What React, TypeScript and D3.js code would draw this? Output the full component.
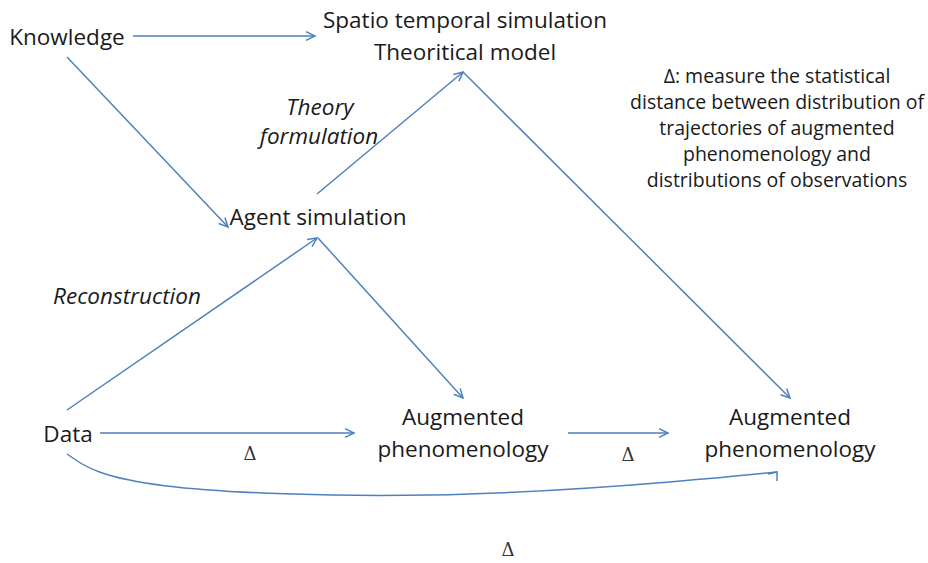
import React from "react";
import * as d3 from "d3";

// node labels (each entry = lines of one label)
const nodeIds = ["knowledge", "model", "agent", "data", "aug1", "aug2"];
const nodeLabels = [
  ["Knowledge"],
  ["Spatio temporal simulation", "Theoritical model"],
  ["Agent simulation"],
  ["Data"],
  ["Augmented", "phenomenology"],
  ["Augmented", "phenomenology"],
];
const italicLabels = [["Theory", "formulation"], ["Reconstruction"]];
const deltaLabels = ["\u0394", "\u0394", "\u0394"];
const noteLines = [
  "\u0394: measure the statistical",
  "distance between distribution of",
  "trajectories of augmented",
  "phenomenology  and",
  "distributions of observations",
];
// edges: from node -> to node
const edges = [
  ["knowledge", "model"],
  ["knowledge", "agent"],
  ["agent", "model"],
  ["model", "aug2"],
  ["data", "agent"],
  ["agent", "aug1"],
  ["data", "aug1"],
  ["aug1", "aug2"],
];

export default function App() {
  const width = 928;
  const height = 563;
  const color = "#4f81bd";
  const font = "'Open Sans', Lato, sans-serif";

  // layout of the diagram
  const pos = {
    knowledge: { x: 67, y: 37 },
    model: { x: 465, y: 36 },
    agent: { x: 318, y: 217 },
    data: { x: 68, y: 434 },
    aug1: { x: 463, y: 433 },
    aug2: { x: 790, y: 433 },
  };
  const anchors = {
    "knowledge-model": [[133, 36], [315, 36]],
    "knowledge-agent": [[67, 57], [228, 227]],
    "agent-model": [[317, 194], [463, 72]],
    "model-aug2": [[463, 72], [790, 398]],
    "data-agent": [[67, 410], [317, 238]],
    "agent-aug1": [[318, 238], [463, 398]],
    "data-aug1": [[100, 433], [354, 433]],
    "aug1-aug2": [[568, 433], [668, 433]],
  };

  const line = d3.line();
  const curve = d3.line().curve(d3.curveBasis);
  const curvePts = [[67, 454], [120, 490], [440, 500], [700, 480], [777, 472]];

  const head = (p0, p1, size = 10) => {
    const a = Math.atan2(p1[1] - p0[1], p1[0] - p0[0]);
    const l = [p1[0] - size * Math.cos(a - 0.45), p1[1] - size * Math.sin(a - 0.45)];
    const r = [p1[0] - size * Math.cos(a + 0.45), p1[1] - size * Math.sin(a + 0.45)];
    return line([l, p1, r]);
  };

  return (
    <svg width={width} height={height} style={{ position: "absolute", left: 0, top: 0, background: "#fff" }}>
      <g fill="none" stroke={color} strokeWidth={1.5}>
        {edges.map(([a, b]) => {
          const [p0, p1] = anchors[`${a}-${b}`];
          return (
            <g key={`${a}-${b}`}>
              <path d={line([p0, p1])} />
              <path d={head(p0, p1)} />
            </g>
          );
        })}
        <path d={curve(curvePts)} />
        <path d={line([[768, 474], [777, 472], [777, 481]])} />
      </g>
      <g fontFamily={font} fontSize={22.5} fill="#1a1a1a" textAnchor="middle">
        {nodeIds.map((id, i) => {
          const p = pos[id];
          const n = nodeLabels[i].length;
          return nodeLabels[i].map((t, j) => (
            <text key={id + j} x={p.x} y={p.y + (j - (n - 1) / 2) * 32} dy="0.35em">
              {t}
            </text>
          ));
        })}
      </g>
      <g fontFamily={font} fontSize={22.5} fontStyle="italic" fill="#1a1a1a" textAnchor="middle">
        {italicLabels[0].map((t, j) => (
          <text key={t} x={j === 0 ? 320 : 319} y={107 + j * 29} dy="0.35em">{t}</text>
        ))}
        <text x={127} y={296} dy="0.35em">{italicLabels[1][0]}</text>
      </g>
      <g fontFamily="'DejaVu Serif', serif" fontSize={18} fill="#333" textAnchor="middle">
        {deltaLabels.map((t, i) => (
          <text key={i} x={[250, 628, 508][i]} y={[454, 455, 550][i]} dy="0.35em">{t}</text>
        ))}
      </g>
      <g fontFamily={font} fontSize={19.5} fill="#1a1a1a" textAnchor="middle">
        {noteLines.map((t, i) => (
          <text key={i} x={777} y={76 + i * 26} dy="0.35em">{t}</text>
        ))}
      </g>
    </svg>
  );
}
